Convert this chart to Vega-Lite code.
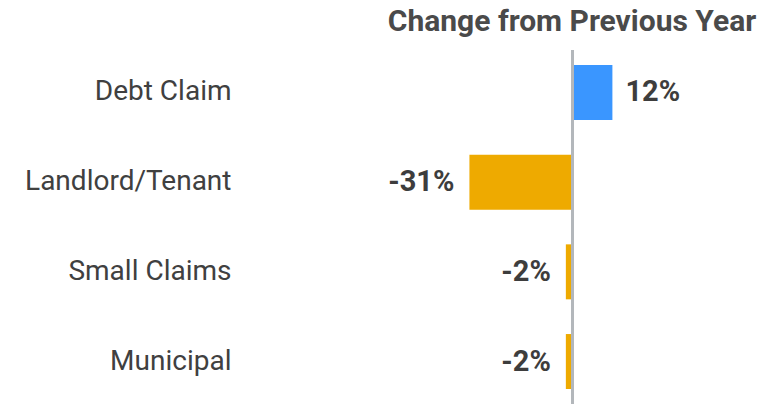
{
  "$schema": "https://vega.github.io/schema/vega-lite/v6.json",
  "width": 532,
  "height": 354,
  "autosize": "none",
  "padding": {"left": 240, "top": 50, "right": 0, "bottom": 0},
  "background": "white",
  "config": {"view": {"stroke": null}, "font": "Roboto"},
  "title": {
    "text": "Change from Previous Year",
    "frame": "group",
    "anchor": "start",
    "align": "center",
    "dx": 332,
    "dy": 30,
    "baseline": "alphabetic",
    "offset": 18,
    "fontSize": 30,
    "fontWeight": "bold",
    "color": "#4a4a4a",
    "font": "Roboto"
  },
  "data": {
    "values": [
      {"type": "Debt Claim", "pct": 12, "label": "12%"},
      {"type": "Landlord/Tenant", "pct": -31, "label": "-31%"},
      {"type": "Small Claims", "pct": -2, "label": "-2%"},
      {"type": "Municipal", "pct": -2, "label": "-2%"}
    ]
  },
  "layer": [
    {
      "mark": {"type": "bar"},
      "encoding": {
        "y": {
          "field": "type", "type": "nominal", "sort": null,
          "scale": {"paddingInner": 0.387, "paddingOuter": 0.167},
          "axis": {"title": null, "ticks": false, "domain": false, "labelPadding": 9, "labelFontSize": 28, "labelColor": "#404040", "labelLimit": 300, "labelFont": "Roboto"}
        },
        "x": {"field": "pct", "type": "quantitative", "scale": {"domain": [-95, 57]}, "axis": null},
        "color": {"condition": {"test": "datum.pct > 0", "value": "#3a96ff"}, "value": "#eeaa00"}
      }
    },
    {
      "mark": {"type": "rule", "color": "#b3b7bb", "strokeWidth": 3},
      "encoding": {"x": {"datum": 0, "type": "quantitative"}}
    },
    {
      "transform": [{"filter": "datum.pct > 0"}],
      "mark": {"type": "text", "align": "left", "dx": 13, "fontSize": 29, "fontWeight": "bold", "color": "#3d3d3d", "font": "Roboto"},
      "encoding": {
        "y": {"field": "type", "type": "nominal", "sort": null},
        "x": {"field": "pct", "type": "quantitative"},
        "text": {"field": "label"}
      }
    },
    {
      "transform": [{"filter": "datum.pct < 0"}],
      "mark": {"type": "text", "align": "right", "dx": -15, "fontSize": 29, "fontWeight": "bold", "color": "#3d3d3d", "font": "Roboto"},
      "encoding": {
        "y": {"field": "type", "type": "nominal", "sort": null},
        "x": {"field": "pct", "type": "quantitative"},
        "text": {"field": "label"}
      }
    }
  ]
}
